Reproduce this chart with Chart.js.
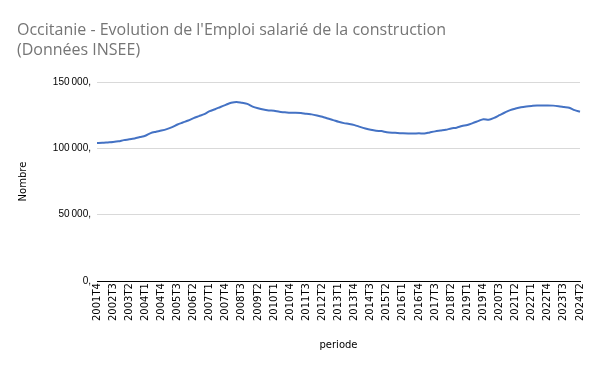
<!DOCTYPE html>
<html>
<head>
<meta charset="utf-8">
<script src="https://cdn.jsdelivr.net/npm/chart.js@4"></script>
<style>
  html, body { margin: 0; padding: 0; background: #fff; }
  #wrap { width: 600px; height: 371px; }
</style>
</head>
<body>
<div id="wrap"><canvas id="emploiChart" width="600" height="371"></canvas></div>
<script>
// periodes trimestrielles 2001T4 -> 2024T2
const periodes = [];
for (let an = 2001; an <= 2024; an++) {
    for (let t = 1; t <= 4; t++) {
        if (an === 2001 && t < 4) continue;
        if (an === 2024 && t > 2) continue;
        periodes.push(an + 'T' + t);
    }
}

// emploi salarie construction
const emploi = [
    104000, 104200, 104500, 104800, 105300, 106200, 106800, 107500, 108500, 109500,
    111500, 112500, 113400, 114500, 116000, 118000, 119500, 121000, 122800, 124300,
    125800, 128000, 129500, 131200, 132800, 134300, 135000, 134300, 133500, 131500,
    130200, 129200, 128600, 128300, 127500, 127200, 126800, 126900, 126700, 126000,
    125600, 124800, 123800, 122500, 121300, 120000, 119000, 118400, 117500, 116200,
    115000, 114000, 113300, 113000, 112200, 111800, 111600, 111300, 111200, 111200,
    111300, 111200, 112000, 112800, 113400, 114000, 115000, 115600, 116800, 117600,
    119000, 120500, 122000, 121600, 123000, 125000, 127000, 128800, 130000, 131000,
    131600, 132000, 132300, 132200, 132300, 132200, 131800, 131200, 130600, 128800,
    127600
];

const titre = ["Occitanie - Evolution de l'Emploi salarié de la construction", "(Données INSEE)"];
const yTicks = [0, 50000, 100000, 150000];

const ctx = document.getElementById('emploiChart').getContext('2d');
const emploiChart = new Chart(ctx, {
    type: 'line',
    data: {
        labels: periodes,
        datasets: [{
            label: 'Emploi salarié',
            data: emploi,
            borderColor: 'rgb(68, 114, 196)',
            backgroundColor: 'rgb(68, 114, 196)',
            borderWidth: 2,
            tension: 0.3,
            pointRadius: 0,
            fill: false
        }]
    },
    options: {
        responsive: false,
        animation: false,
        layout: { padding: { left: 17, right: 20, top: 20, bottom: 20 } },
        plugins: {
            legend: { display: false },
            tooltip: { enabled: false },
            title: {
                display: true,
                text: titre,
                align: 'start',
                color: '#757575',
                font: { family: 'Open Sans', size: 16, weight: 'normal', lineHeight: 1.25 },
                padding: { top: 0, bottom: 22 }
            }
        },
        scales: {
            x: {
                offset: false,
                grid: { display: false, drawTicks: false },
                border: { display: true, color: '#000', width: 1 },
                ticks: {
                    autoSkip: false,
                    maxRotation: 90,
                    minRotation: 90,
                    color: '#000',
                    padding: 2,
                    font: { family: 'DejaVu Sans', size: 10 },
                    callback: function(value, index) {
                        return index % 3 === 0 ? periodes[index] : null;
                    }
                },
                title: {
                    display: true,
                    text: 'periode',
                    color: '#000',
                    font: { family: 'DejaVu Sans', size: 10 },
                    padding: { top: 16, bottom: 0 }
                }
            },
            y: {
                min: 0,
                max: 150000,
                afterBuildTicks: function(axis) {
                    axis.ticks = yTicks.map(v => ({ value: v }));
                },
                afterFit: function(axis) { axis.width = 80; },
                grid: { color: '#d9d9d9', drawTicks: false },
                border: { display: false },
                ticks: {
                    color: '#000',
                    padding: 6,
                    font: { family: 'Liberation Sans', size: 10 },
                    callback: function(value) {
                        return value.toLocaleString('fr-FR') + ',';
                    }
                },
                title: {
                    display: true,
                    text: 'Nombre',
                    color: '#000',
                    font: { family: 'DejaVu Sans', size: 10 },
                    padding: { top: 0, bottom: 4 }
                }
            }
        }
    }
});
</script>
</body>
</html>
